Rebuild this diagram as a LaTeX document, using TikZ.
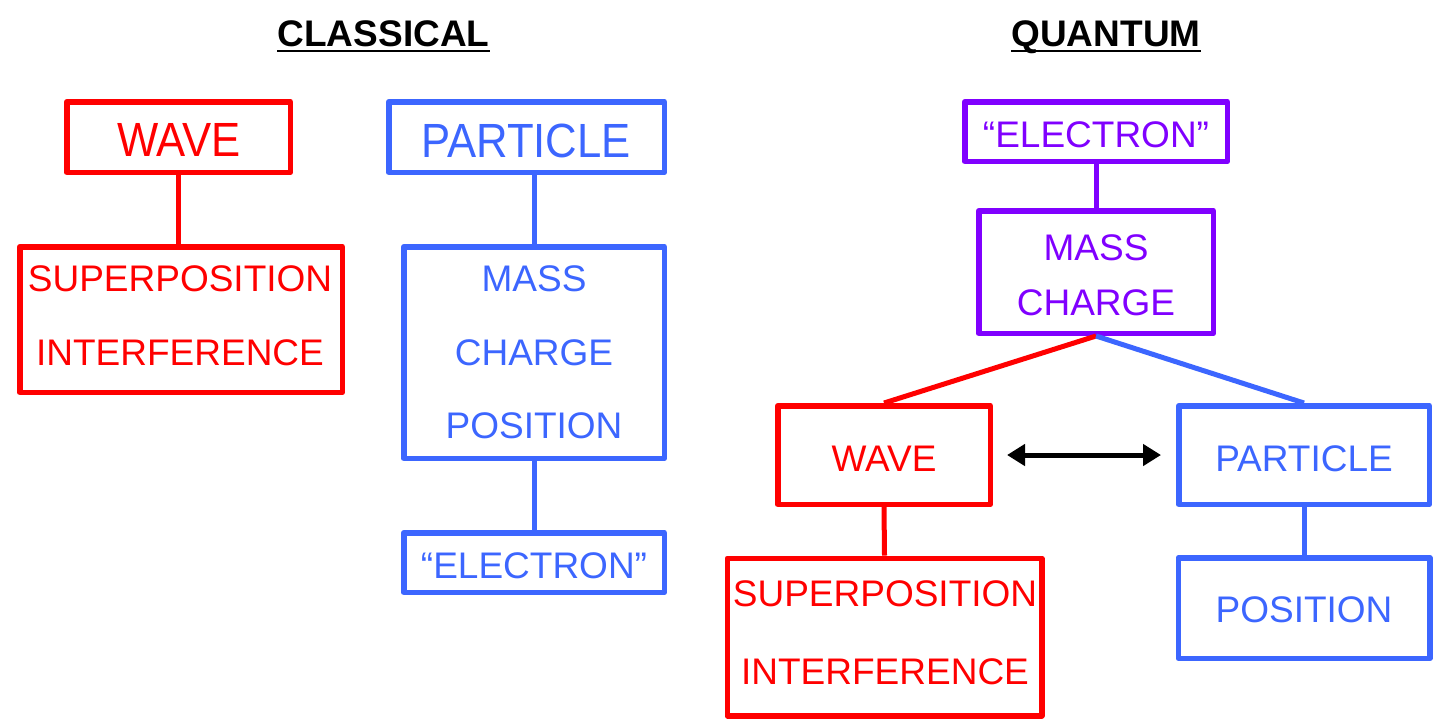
\documentclass[tikz,border=0pt]{standalone}
\usepackage{fontspec}
\setmainfont{Liberation Sans}
\newfontfamily\narrowfont[FakeStretch=0.91]{Liberation Sans}
\usetikzlibrary{arrows.meta}
\definecolor{wred}{HTML}{FF0000}
\definecolor{wblue}{HTML}{3C66FF}
\definecolor{wpurple}{HTML}{8000FF}
\tikzset{
  bx/.style={draw=#1, line width=2.75pt, line join=round, inner sep=0pt, fill=none},
  tx/.style={text=#1, inner sep=0pt, text height=13.25pt, text depth=0pt, font=\fontsize{18.5}{22}\selectfont},
  tb/.style={text=#1, inner sep=0pt, text height=17.2pt, text depth=0pt, font=\narrowfont\fontsize{24}{28}\selectfont},
  ttl/.style={inner sep=0pt, text height=13.25pt, text depth=0pt, font=\bfseries\fontsize{18.5}{22}\selectfont},
  cn/.style={draw=#1, line width=2.5pt},
  dbl/.style={line width=2.5pt, {Triangle[length=9pt,width=10.5pt]}-{Triangle[length=9pt,width=10.5pt]}}
}
\begin{document}
\begin{tikzpicture}[x=0.5pt,y=-0.5pt]
\useasboundingbox (0,0) rectangle (1434,720);
% titles
\node[ttl] (tc) at (383.5,33.3) {CLASSICAL};
\node[ttl] (tq) at (1106,33.3) {QUANTUM};
\draw[line width=1.35pt] ([yshift=-2.2pt]tc.base west) -- ([yshift=-2.2pt]tc.base east);
\draw[line width=1.35pt] ([yshift=-2.2pt]tq.base west) -- ([yshift=-2.2pt]tq.base east);
% classical boxes
\node[bx=wred, minimum width=111.75pt, minimum height=35.25pt] (cw) at (178.5,137) {};
\node[bx=wblue, minimum width=137.75pt, minimum height=35.25pt] (cp) at (526.5,137) {};
\node[bx=wred, minimum width=161.25pt, minimum height=72.75pt] (cs) at (181,319.5) {};
\node[bx=wblue, minimum width=130.25pt, minimum height=105.75pt] (cm) at (534,352.5) {};
\node[bx=wblue, minimum width=130.25pt, minimum height=29.75pt] (ce) at (534,562.5) {};
% classical texts
\node[tb=wred] (cwt) at (179,139.5) {WAVE};
\node[tb=wblue] (cpt) at (526,140) {PARTICLE};
\node[tx=wred] (cst1) at (180,278) {SUPERPOSITION};
\node[tx=wred] (cst2) at (180,352) {INTERFERENCE};
\node[tx=wblue] (cmt1) at (534,278) {MASS};
\node[tx=wblue] (cmt2) at (534,352.5) {CHARGE};
\node[tx=wblue] (cmt3) at (534,425.5) {POSITION};
\node[tx=wblue] (cet) at (534,565) {“ELECTRON”};
% quantum boxes
\node[bx=wpurple, minimum width=131.25pt, minimum height=29.75pt] (qe) at (1096,131.5) {};
\node[bx=wpurple, minimum width=117.25pt, minimum height=61.25pt] (qm) at (1096,272) {};
\node[bx=wred, minimum width=106.25pt, minimum height=49.25pt] (qw) at (884,455) {};
\node[bx=wblue, minimum width=125.25pt, minimum height=49.25pt] (qp) at (1304,455) {};
\node[bx=wred, minimum width=157.25pt, minimum height=78.75pt] (qs) at (884.5,637) {};
\node[bx=wblue, minimum width=125.75pt, minimum height=50.25pt] (qpos) at (1304,608) {};
% quantum texts
\node[tx=wpurple] (qet) at (1096,134) {“ELECTRON”};
\node[tx=wpurple] (qmt1) at (1096,247) {MASS};
\node[tx=wpurple] (qmt2) at (1096,302) {CHARGE};
\node[tx=wred] (qwt) at (884,458) {WAVE};
\node[tx=wblue] (qpt) at (1304,458) {PARTICLE};
\node[tx=wred] (qst1) at (885,593) {SUPERPOSITION};
\node[tx=wred] (qst2) at (885,671.5) {INTERFERENCE};
\node[tx=wblue] (qpost) at (1304,609.5) {POSITION};
% connectors
\draw[cn=wred] (cw.south) -- (cw.south |- cs.north);
\draw[cn=wblue] (cm.north) -- (cm.north |- cp.south);
\draw[cn=wblue] (cm.south) -- (ce.north);
\draw[cn=wpurple] (qe.south) -- (qm.north);
\draw[cn=wred] (qm.south) -- (qw.north);
\draw[cn=wblue] (qm.south) -- (qp.north);
\draw[cn=wred] (qw.south) -- (qs.north);
\draw[cn=wblue] (qp.south) -- (qpos.north);
\draw[dbl, shorten <=7pt, shorten >=7.5pt] (qw.east) -- (qp.west);
\end{tikzpicture}
\end{document}
